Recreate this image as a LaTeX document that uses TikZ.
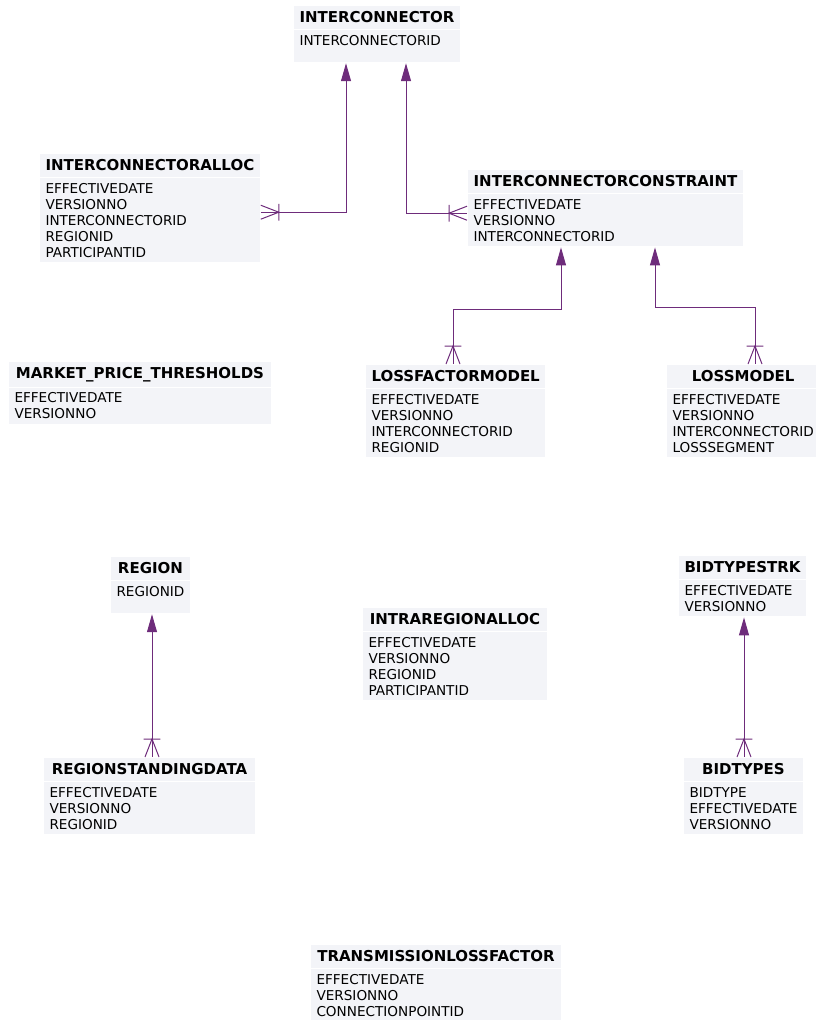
\documentclass[tikz,border=0pt]{standalone}
\usepackage{fontspec}
\setsansfont{DejaVu Sans}
\usetikzlibrary{arrows.meta,shapes.multipart}
\definecolor{BoxFill}{HTML}{F3F4F8}
\definecolor{LinkPurple}{HTML}{6E2C7B}

% crow's foot: bar plus three prongs, the line itself is the middle prong
\pgfdeclarearrow{
  name = Crow,
  parameters = {\the\pgfarrowlength,\the\pgfarrowwidth},
  setup code = {
    \pgfarrowssettipend{0pt}
    \pgfarrowssetlineend{0pt}
    \pgfarrowssetbackend{-\pgfarrowlength}
    \pgfarrowssetvisualbackend{-\pgfarrowlength}
    \pgfarrowshullpoint{0pt}{.6\pgfarrowwidth}
    \pgfarrowshullpoint{0pt}{-.6\pgfarrowwidth}
    \pgfarrowshullpoint{-\pgfarrowlength}{.6\pgfarrowwidth}
    \pgfarrowshullpoint{-\pgfarrowlength}{-.6\pgfarrowwidth}
    \pgfarrowssavethe\pgfarrowlength
    \pgfarrowssavethe\pgfarrowwidth
  },
  drawing code = {
    \pgfsetdash{}{0pt}
    \pgfpathmoveto{\pgfpoint{0pt}{.5\pgfarrowwidth}}
    \pgfpathlineto{\pgfpoint{-\pgfarrowlength}{0pt}}
    \pgfpathlineto{\pgfpoint{0pt}{-.5\pgfarrowwidth}}
    \pgfpathmoveto{\pgfpoint{-\pgfarrowlength}{.6\pgfarrowwidth}}
    \pgfpathlineto{\pgfpoint{-\pgfarrowlength}{-.6\pgfarrowwidth}}
    \pgfusepathqstroke
  },
  defaults = {length=18pt, width=14pt}
}

\newcommand{\entname}[1]{{\fontsize{15}{16}\selectfont\bfseries\rule[-2pt]{0pt}{10pt}#1}}

\begin{document}
\begin{tikzpicture}[
  x=1pt, y=-1pt,
  font=\sffamily,
  entity/.style={rectangle split, rectangle split parts=2,
    rectangle split part fill={BoxFill,BoxFill}, draw=white, line width=1pt,
    anchor=north west, align=left, rectangle split part align={center,left},
    inner xsep=6pt, inner ysep=5pt, font=\sffamily\fontsize{13.6}{16}\selectfont},
  rel/.style={draw=LinkPurple, line width=1pt,
    {Triangle[length=18pt,width=10pt]}-{Crow[length=18pt,width=14pt]}}
]
\useasboundingbox (0,0) rectangle (816,1020);

\node[entity, minimum width=166pt] (ic) at (293,5)
  {\entname{INTERCONNECTOR}\nodepart{two}INTERCONNECTORID\rule[-12pt]{0pt}{1pt}};
\node[entity, minimum width=220pt] (icalloc) at (39,153)
  {\entname{INTERCONNECTORALLOC}\nodepart{two}EFFECTIVEDATE\\VERSIONNO\\INTERCONNECTORID\\REGIONID\\PARTICIPANTID};
\node[entity, minimum width=276pt] (icconstr) at (467,169)
  {\entname{INTERCONNECTORCONSTRAINT}\nodepart{two}EFFECTIVEDATE\\VERSIONNO\\INTERCONNECTORID};
\node[entity, minimum width=263pt] (mpt) at (8,361)
  {\entname{MARKET\_PRICE\_THRESHOLDS}\nodepart{two}EFFECTIVEDATE\\VERSIONNO};
\node[entity, minimum width=178pt] (lfm) at (365,364)
  {\entname{LOSSFACTORMODEL}\nodepart{two}EFFECTIVEDATE\\VERSIONNO\\INTERCONNECTORID\\REGIONID};
\node[entity, minimum width=149pt] (lm) at (666,364)
  {\entname{LOSSMODEL}\nodepart{two}EFFECTIVEDATE\\VERSIONNO\\INTERCONNECTORID\\LOSSSEGMENT};
\node[entity, minimum width=78pt] (region) at (110,556)
  {\entname{REGION}\nodepart{two}REGIONID\rule[-12pt]{0pt}{1pt}};
\node[entity, minimum width=185pt] (intra) at (362,607)
  {\entname{INTRAREGIONALLOC}\nodepart{two}EFFECTIVEDATE\\VERSIONNO\\REGIONID\\PARTICIPANTID};
\node[entity, minimum width=127pt] (bidtrk) at (678,555)
  {\entname{BIDTYPESTRK}\nodepart{two}EFFECTIVEDATE\\VERSIONNO};
\node[entity, minimum width=212pt] (rsd) at (43,757)
  {\entname{REGIONSTANDINGDATA}\nodepart{two}EFFECTIVEDATE\\VERSIONNO\\REGIONID};
\node[entity, minimum width=118pt] (bidtypes) at (683,757)
  {\entname{BIDTYPES}\nodepart{two}BIDTYPE\\EFFECTIVEDATE\\VERSIONNO};
\node[entity, minimum width=251pt] (tlf) at (310,944)
  {\entname{TRANSMISSIONLOSSFACTOR}\nodepart{two}EFFECTIVEDATE\\VERSIONNO\\CONNECTIONPOINTID};

% relationships: parent end gets the triangle, child end the crow's foot
\draw[rel] ([xshift=53pt]ic.south west) |- ([yshift=-4pt]icalloc.east);
\draw[rel] ([xshift=113pt]ic.south west) |- ([yshift=-5pt]icconstr.west);
\draw[rel] ([xshift=94pt]icconstr.south west) -- ++(0,62) -| ([xshift=88pt]lfm.north west);
\draw[rel] ([xshift=188pt]icconstr.south west) -- ++(0,60) -| ([xshift=89pt]lm.north west);
\draw[rel] ([xshift=42pt]region.south west) coordinate (rg) -- (rg |- rsd.north);
\draw[rel] ([xshift=66pt]bidtrk.south west) coordinate (bt) -- (bt |- bidtypes.north);

\end{tikzpicture}
\end{document}
